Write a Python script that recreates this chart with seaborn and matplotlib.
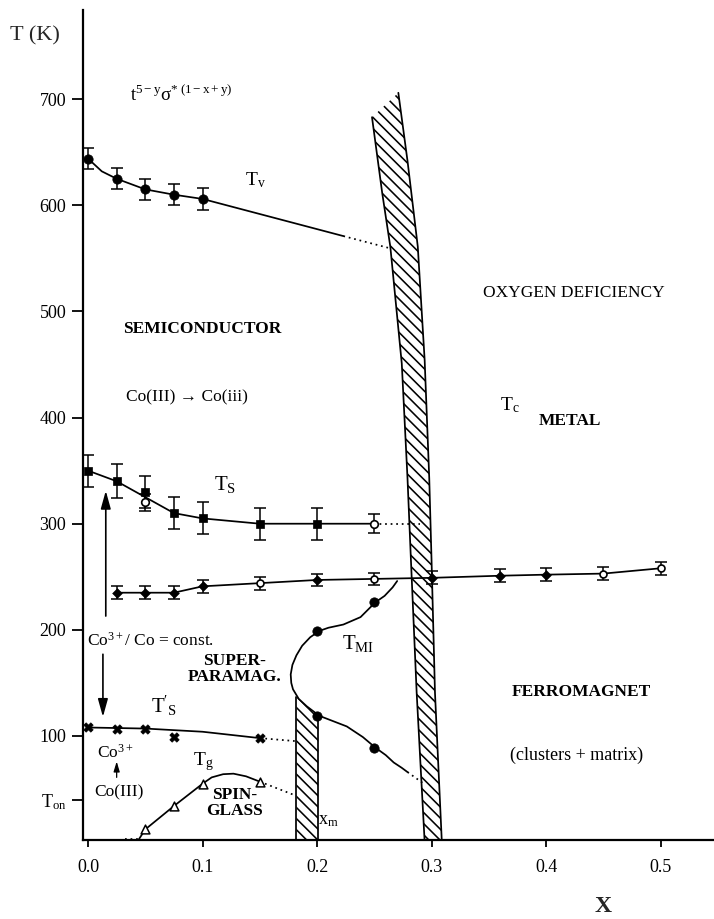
import matplotlib
matplotlib.use("Agg")
import matplotlib.pyplot as plt
import seaborn as sns

# ---------------- data (x = composition, T in K) ----------------
# Verwey-like transition T_v (filled circles)
tv_x = [0.0, 0.025, 0.05, 0.075, 0.10]
tv_T = [644, 625, 615, 610, 606]
tv_err = [10, 10, 10, 10, 10]
tv_line_x = [0.0, 0.012, 0.025, 0.05, 0.075, 0.10, 0.223]
tv_line_T = [644, 632, 625, 615, 610, 606, 571]
tv_dot_x = [0.223, 0.262]
tv_dot_T = [571, 560]

# spin-state transition T_S (filled squares, open circles)
ts_x = [0.0, 0.025, 0.05, 0.075, 0.10, 0.15, 0.20]
ts_T = [350, 340, 330, 310, 305, 300, 300]
ts_err = [15, 16, 15, 15, 15, 15, 15]
ts_open_x = [0.05, 0.25]
ts_open_T = [320, 300]
ts_open_err = [8, 9]
ts_line_x = [0.0, 0.025, 0.05, 0.075, 0.10, 0.15, 0.20, 0.25]
ts_line_T = [350, 340, 325, 310, 305, 300, 300, 300]
ts_dot_x = [0.25, 0.29]
ts_dot_T = [300, 300]

# Curie temperature T_c
tc_x = [0.025, 0.05, 0.075, 0.10, 0.15, 0.20, 0.25, 0.30, 0.36, 0.40, 0.45, 0.50]
tc_T = [235, 235, 235, 241, 244, 247, 248, 249, 251, 252, 253, 258]
tc_err = [6, 6, 6, 6, 6, 6, 6, 6, 6, 6, 6, 6]
tc_filled = [True, True, True, True, False, True, False, True, True, True, False, False]

# second spin-state line T'_S
ts2_x = [0.0, 0.025, 0.05, 0.075, 0.15]
ts2_T = [108, 107, 107, 99, 98]
ts2_line_x = [0.0, 0.05, 0.10, 0.15]
ts2_line_T = [108, 107, 104, 98]
ts2_dot_x = [0.15, 0.183]
ts2_dot_T = [98, 95]

# spin-glass freezing T_g (open triangles)
tg_x = [0.05, 0.075, 0.10, 0.15]
tg_T = [12, 34, 55, 57]
tg_line_x = [0.044, 0.05, 0.075, 0.10, 0.108, 0.118, 0.127, 0.138, 0.15]
tg_line_T = [2, 12, 34, 55, 61, 64, 64.5, 62, 57]
tg_dot_x = [0.15, 0.181]
tg_dot_T = [57, 44]
tg_base_x = [0.032, 0.044]
tg_base_T = [3, 3]

# metal-insulator boundary T_MI (filled circles)
tmi_x = [0.20, 0.25, 0.20, 0.25]
tmi_T = [199, 226, 119, 89]
tmi_line_x = [0.270, 0.266, 0.259, 0.251, 0.238, 0.223, 0.210, 0.202, 0.194,
              0.187, 0.182, 0.1785, 0.177, 0.1775, 0.179, 0.184, 0.191, 0.202,
              0.214, 0.226, 0.240, 0.251, 0.260, 0.267, 0.274, 0.279]
tmi_line_T = [246, 240, 232, 226, 212, 205, 202, 199, 193,
              185, 176, 167, 158, 150, 144, 135, 128, 119,
              114, 109, 99, 89, 82, 75, 70, 66]
tmi_dot_x = [0.279, 0.292]
tmi_dot_T = [66, 56]

# hatched band at x_m
xm_band_x = [0.182, 0.201, 0.201, 0.191, 0.184, 0.182]
xm_band_T = [0, 0, 119, 128, 135, 137]

# hatched oxygen-deficiency boundary
ox_left_x = [0.294, 0.287, 0.282, 0.279, 0.274, 0.264, 0.257, 0.248]
ox_left_T = [0, 141, 266, 343, 451, 561, 611, 683]
ox_right_x = [0.271, 0.279, 0.288, 0.294, 0.298, 0.300, 0.303, 0.309]
ox_right_T = [706, 642, 561, 454, 343, 266, 141, 0]

x_ticks = [0.0, 0.1, 0.2, 0.3, 0.4, 0.5]
x_tick_labels = ["0.0", "0.1", "0.2", "0.3", "0.4", "0.5"]
y_ticks = [40, 100, 200, 300, 400, 500, 600, 700]
y_tick_labels = [r"$T_{on}$", "100", "200", "300", "400", "500", "600", "700"]

# ---------------- style ----------------
sns.set_theme(style="ticks")
serif = ["Liberation Serif", "DejaVu Serif"]
plt.rcParams["font.family"] = serif
plt.rcParams["mathtext.fontset"] = "custom"
plt.rcParams["mathtext.rm"] = "Liberation Serif"
plt.rcParams["mathtext.it"] = "Liberation Serif:italic"
plt.rcParams["mathtext.bf"] = "Liberation Serif:bold"
plt.rcParams["mathtext.default"] = "rm"
plt.rcParams["hatch.linewidth"] = 1.15
plt.rcParams["hatch.color"] = "black"

K = "black"
LW = 1.25
DOT = (0, (1, 2.2))

fig = plt.figure(figsize=(7.14, 9.19), dpi=100)
ax = fig.add_axes([83 / 714, 79 / 919, 631 / 714, 830 / 919])
ax.set_xlim(-0.0044, 0.5467)
ax.set_ylim(2, 784)


def line(x, y, ls="-"):
    sns.lineplot(x=x, y=y, ax=ax, sort=False, estimator=None, color=K,
                 lw=LW, linestyle=ls, legend=False)


def errs(x, y, e):
    ax.errorbar(x, y, yerr=e, fmt="none", ecolor=K, elinewidth=1.1,
                capsize=4, capthick=1.1, zorder=3)


# hatched bands
ax.fill(xm_band_x, xm_band_T, facecolor="white", edgecolor=K, hatch="\\\\\\",
        lw=0, zorder=1)
line([xm_band_x[0], xm_band_x[-1]], [xm_band_T[0], xm_band_T[-1]])
line([xm_band_x[1], xm_band_x[2]], [xm_band_T[1], xm_band_T[2]])

ax.fill(ox_left_x + ox_right_x, ox_left_T + ox_right_T, facecolor="white",
        edgecolor=K, hatch="\\\\\\", lw=0, zorder=1)
line(ox_left_x, ox_left_T)
line(ox_right_x, ox_right_T)

# T_v
line(tv_line_x, tv_line_T)
line(tv_dot_x, tv_dot_T, DOT)
errs(tv_x, tv_T, tv_err)
sns.scatterplot(x=tv_x, y=tv_T, ax=ax, color=K, marker="o", s=45,
                edgecolor=K, zorder=4)

# T_S
line(ts_line_x, ts_line_T)
line(ts_dot_x, ts_dot_T, DOT)
errs(ts_x, ts_T, ts_err)
errs(ts_open_x, ts_open_T, ts_open_err)
sns.scatterplot(x=ts_x, y=ts_T, ax=ax, color=K, marker="s", s=40,
                edgecolor=K, zorder=4)
sns.scatterplot(x=ts_open_x, y=ts_open_T, ax=ax, color="white", marker="o",
                s=30, edgecolor=K, linewidth=1.2, zorder=4)

# T_c
line(tc_x, tc_T)
errs(tc_x, tc_T, tc_err)
tcf_x = [x for x, f in zip(tc_x, tc_filled) if f]
tcf_T = [t for t, f in zip(tc_T, tc_filled) if f]
tco_x = [x for x, f in zip(tc_x, tc_filled) if not f]
tco_T = [t for t, f in zip(tc_T, tc_filled) if not f]
sns.scatterplot(x=tcf_x, y=tcf_T, ax=ax, color=K, marker="D", s=25,
                edgecolor=K, zorder=4)
sns.scatterplot(x=tco_x, y=tco_T, ax=ax, color="white", marker="o", s=25,
                edgecolor=K, linewidth=1.2, zorder=4)

# T'_S
line(ts2_line_x, ts2_line_T)
line(ts2_dot_x, ts2_dot_T, DOT)
sns.scatterplot(x=ts2_x, y=ts2_T, ax=ax, color=K, marker="X", s=45,
                edgecolor=K, zorder=4)

# T_g
line(tg_line_x, tg_line_T)
line(tg_dot_x, tg_dot_T, DOT)
line(tg_base_x, tg_base_T, DOT)
sns.scatterplot(x=tg_x, y=tg_T, ax=ax, color="white", marker="^", s=40,
                edgecolor=K, linewidth=1.1, zorder=4)

# T_MI
line(tmi_line_x, tmi_line_T)
line(tmi_dot_x, tmi_dot_T, DOT)
sns.scatterplot(x=tmi_x, y=tmi_T, ax=ax, color=K, marker="o", s=45,
                edgecolor=K, zorder=4)

# ---------------- axes ----------------
sns.despine(ax=ax)
for s in ("left", "bottom"):
    ax.spines[s].set_linewidth(1.6)
    ax.spines[s].set_color(K)
ax.set_xticks(x_ticks, x_tick_labels)
ax.set_yticks(y_ticks, y_tick_labels)
ax.tick_params(axis="y", direction="out", length=8, width=1.3, pad=4,
               labelsize=13, colors=K)
ax.tick_params(axis="x", direction="out", length=5, width=1.3, pad=9,
               labelsize=13, colors=K)
ax.set_xlabel("")
ax.set_ylabel("")
ax.grid(False)

fig.text(10 / 714, 1 - 36 / 919, "T (K)", fontsize=16, ha="left", va="center")
fig.text(603 / 714, 1 - 906 / 919, "X", fontsize=17, fontweight="bold",
         ha="center", va="center")

# ---------------- annotations ----------------
T = dict(color=K, zorder=5)
ax.text(0.037, 704, r"$t^{5-y}\sigma^{*\ (1-x+y)}$", fontsize=13.5, ha="left",
        va="center", **T)
ax.text(0.146, 624, r"$T_v$", fontsize=14, ha="center", va="center", **T)
ax.text(0.100, 483, "SEMICONDUCTOR", fontsize=12.5, fontweight="bold",
        ha="center", va="center", **T)
ax.text(0.086, 419, "Co(III) \u2192 Co(iii)", fontsize=12.5, ha="center",
        va="center", **T)
ax.text(0.120, 337, r"$T_S$", fontsize=15, ha="center", va="center", **T)
ax.text(0.424, 517, "OXYGEN DEFICIENCY", fontsize=12.5, ha="center",
        va="center", **T)
ax.text(0.421, 397, "METAL", fontsize=12.5, fontweight="bold", ha="center",
        va="center", **T)
ax.text(0.368, 412, r"$T_c$", fontsize=14, ha="center", va="center", **T)
ax.text(-0.001, 190, r"Co$^{3+}$/ Co = const.", fontsize=12.5, ha="left",
        va="center", **T)
ax.text(0.128, 163, "SUPER-\nPARAMAG.", fontsize=12.5, fontweight="bold",
        ha="center", va="center", linespacing=0.95, **T)
ax.text(0.236, 187, r"$T_{MI}$", fontsize=15, ha="center", va="center", **T)
ax.text(0.066, 128, r"$T'_S$", fontsize=15, ha="center", va="center", **T)
ax.text(0.431, 141, "FERROMAGNET", fontsize=12.5, fontweight="bold",
        ha="center", va="center", **T)
ax.text(0.427, 82, "(clusters + matrix)", fontsize=13, ha="center",
        va="center", **T)
ax.text(0.024, 84, r"Co$^{3+}$", fontsize=12.5, ha="center", va="center", **T)
ax.text(0.027, 47, "Co(III)", fontsize=12.5, ha="center", va="center", **T)
ax.text(0.101, 76, r"$T_g$", fontsize=14, ha="center", va="center", **T)
ax.text(0.128, 37, "SPIN-\nGLASS", fontsize=12.5, fontweight="bold",
        ha="center", va="center", linespacing=0.95, **T)
ax.text(0.210, 20, r"$x_m$", fontsize=13, ha="center", va="center", **T)

arrow = dict(arrowstyle="-|>,head_length=0.9,head_width=0.25", color=K, lw=1.2,
             shrinkA=0, shrinkB=0)
ax.annotate("", xy=(0.0155, 331), xytext=(0.0155, 213), arrowprops=arrow)
ax.annotate("", xy=(0.013, 118), xytext=(0.013, 177), arrowprops=arrow)
ax.annotate("", xy=(0.025, 76), xytext=(0.025, 61),
            arrowprops=dict(arrowstyle="-|>,head_length=0.5,head_width=0.15",
                            color=K, lw=0.9, shrinkA=0, shrinkB=0))

fig.savefig("out.png", dpi=100, facecolor="white")
